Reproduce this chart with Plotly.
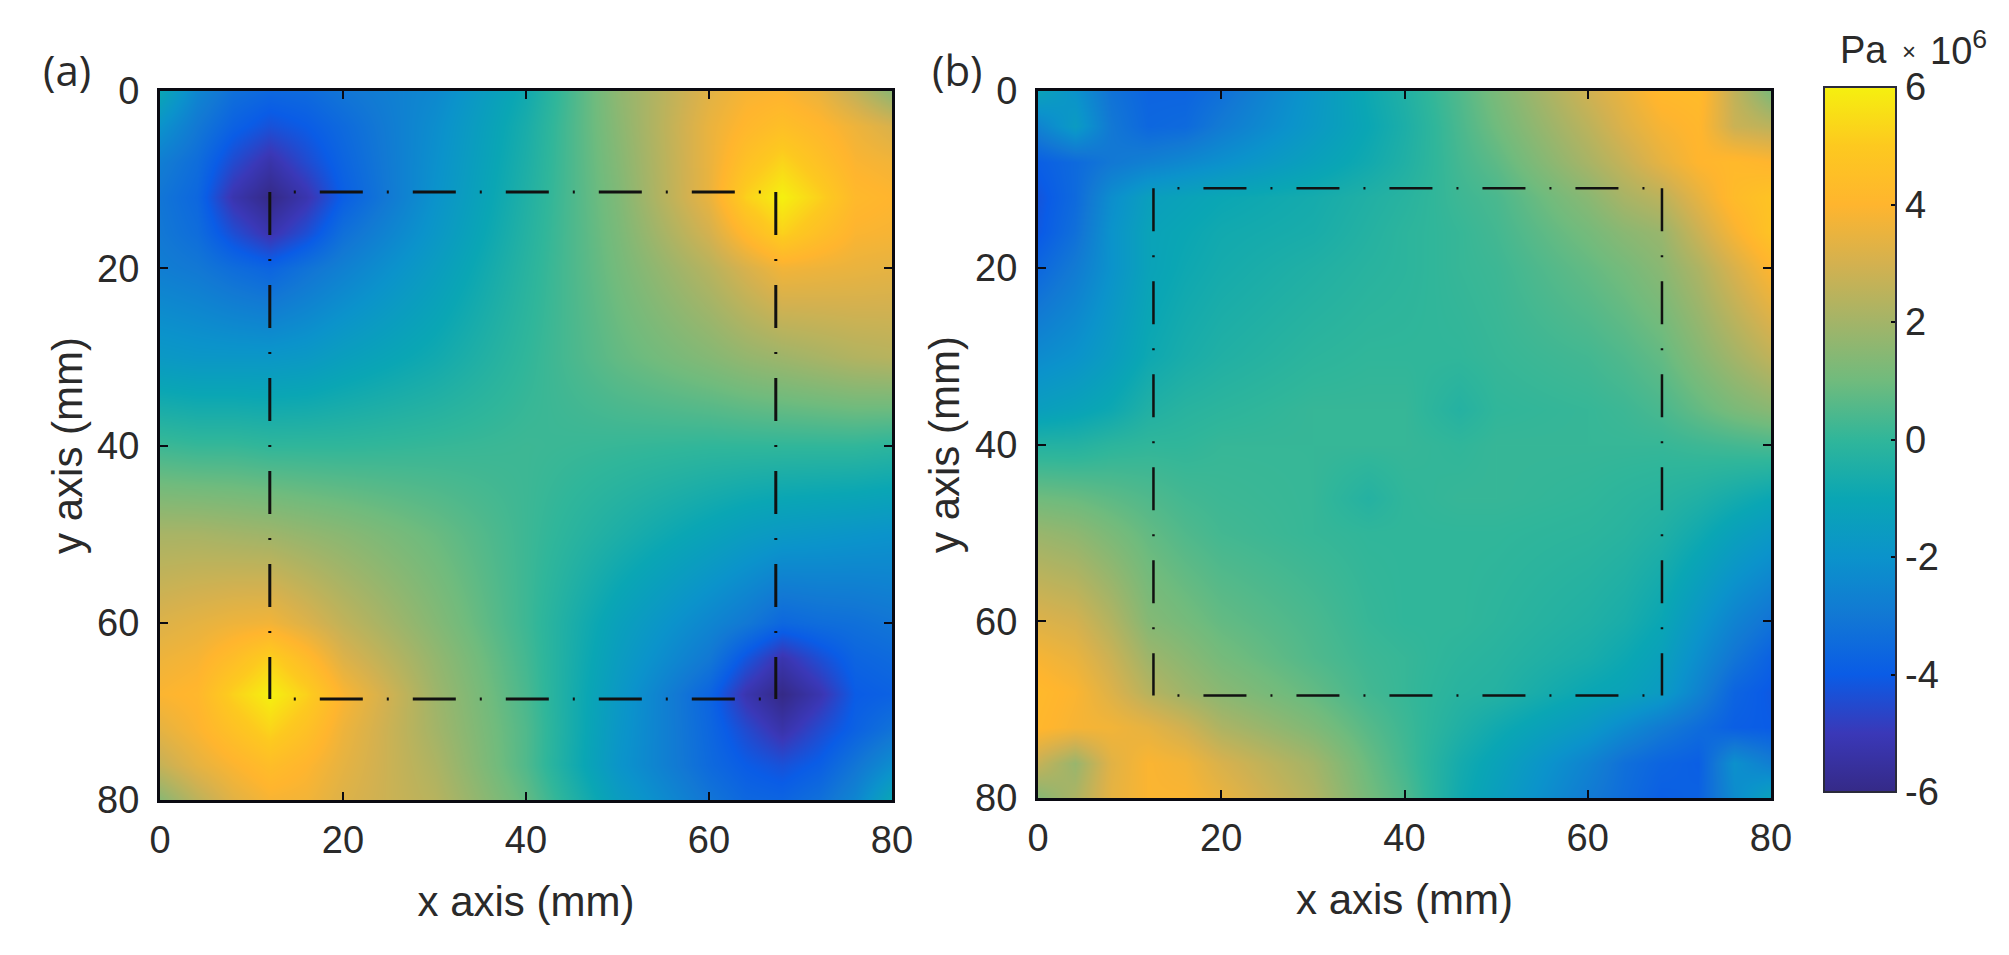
import plotly.graph_objects as go

W, H = 2009, 955

grid_a = [0, 4, 8, 12, 16, 20, 30, 40, 50, 60, 64, 68, 72, 76, 80]
z_a = [
    [-1.0, -2.5, -3.3, -3.6, -3.5, -3.1, -2.4, -0.8, 1.6, 3.3, 3.8, 3.9, 3.5, 2.6, 1.5],
    [-2.0, -3.0, -3.8, -4.3, -4.0, -3.5, -2.2, -0.6, 1.5, 3.5, 4.1, 4.5, 4.1, 3.6, 3.1],
    [-2.8, -3.4, -4.5, -5.3, -4.5, -3.7, -2.1, -0.5, 1.4, 3.5, 4.6, 5.3, 4.6, 3.9, 3.7],
    [-3.1, -3.6, -5.2, -6.0, -5.2, -3.9, -2.0, -0.4, 1.3, 3.5, 5.2, 6.0, 5.2, 4.2, 4.0],
    [-3.0, -3.4, -4.4, -5.2, -4.4, -3.3, -1.8, -0.3, 1.2, 3.0, 4.2, 5.2, 4.5, 3.9, 3.8],
    [-2.8, -3.0, -3.4, -3.7, -3.2, -2.7, -1.5, -0.2, 1.1, 2.4, 3.1, 3.7, 3.6, 3.5, 3.4],
    [-1.7, -1.8, -1.8, -1.8, -1.7, -1.4, -0.8, 0.0, 0.8, 1.4, 1.7, 1.9, 2.1, 2.3, 2.4],
    [0.2, 0.1, 0.1, 0.0, 0.0, 0.0, 0.1, 0.2, 0.1, 0.0, 0.0, 0.0, 0.0, 0.0, -0.1],
    [2.1, 2.1, 2.0, 1.9, 1.7, 1.5, 0.9, 0.2, -0.5, -1.2, -1.5, -1.7, -1.8, -1.9, -2.0],
    [3.2, 3.4, 3.6, 3.7, 3.2, 2.6, 1.4, 0.2, -1.3, -2.5, -3.0, -3.6, -3.4, -3.3, -3.1],
    [3.6, 3.8, 4.4, 5.2, 4.3, 3.2, 1.7, 0.3, -1.5, -3.0, -4.2, -5.2, -4.4, -3.7, -3.5],
    [3.9, 4.1, 5.2, 6.0, 5.2, 3.9, 1.9, 0.4, -1.7, -3.7, -5.2, -6.0, -5.2, -4.0, -3.8],
    [3.4, 3.9, 4.6, 5.3, 4.6, 3.6, 2.0, 0.5, -1.8, -3.6, -4.5, -5.3, -4.5, -3.8, -3.2],
    [2.7, 3.4, 3.9, 4.4, 4.0, 3.4, 2.2, 0.5, -1.9, -3.5, -4.0, -4.3, -3.9, -3.1, -2.2],
    [1.5, 2.5, 3.3, 3.8, 3.7, 3.2, 2.4, 0.8, -1.5, -3.1, -3.6, -3.7, -3.3, -2.5, -1.0],
]

grid_b = [0, 4, 8, 12, 16, 20, 30, 36, 40, 46, 50, 60, 64, 68, 72, 76, 80]
z_b = [
    [-1.2, -2.0, -3.2, -3.7, -3.7, -3.3, -1.8, -0.9, -0.4, 0.5, 1.2, 2.9, 3.5, 4.2, 4.3, 2.6, 1.2],
    [-2.6, -1.6, -3.0, -3.6, -3.5, -2.9, -1.7, -1.0, -0.5, 0.4, 1.0, 2.5, 3.2, 3.8, 4.1, 2.8, 2.5],
    [-3.9, -3.5, -3.0, -2.7, -2.4, -2.1, -1.3, -0.8, -0.4, 0.3, 0.7, 2.1, 2.7, 3.4, 4.0, 4.2, 4.0],
    [-4.2, -3.5, -2.2, -1.4, -1.2, -1.0, -0.7, -0.4, -0.2, 0.2, 0.4, 1.5, 2.1, 2.5, 3.4, 4.3, 4.7],
    [-4.1, -3.3, -2.0, -1.2, -1.0, -0.8, -0.6, -0.3, -0.1, 0.1, 0.3, 1.1, 1.5, 1.8, 2.8, 3.8, 4.7],
    [-3.6, -2.9, -2.0, -1.2, -0.9, -0.7, -0.4, -0.2, -0.1, 0.1, 0.2, 0.8, 1.1, 1.5, 2.2, 3.1, 4.0],
    [-2.3, -2.0, -1.5, -0.9, -0.6, -0.4, -0.1, 0.0, 0.0, 0.0, 0.1, 0.3, 0.5, 0.8, 1.4, 2.0, 2.6],
    [-1.4, -1.2, -0.9, -0.4, -0.2, -0.1, 0.1, 0.1, 0.1, -0.3, 0.0, 0.1, 0.2, 0.4, 0.8, 1.2, 1.5],
    [-0.3, -0.3, -0.1, 0.0, 0.0, 0.1, 0.1, 0.1, 0.1, 0.0, 0.1, 0.1, 0.1, 0.1, 0.2, 0.3, 0.4],
    [1.0, 0.9, 0.7, 0.5, 0.3, 0.2, 0.1, -0.3, 0.0, 0.1, 0.1, 0.0, -0.1, -0.2, -0.4, -0.7, -1.0],
    [1.8, 1.6, 1.2, 0.8, 0.5, 0.3, 0.1, 0.0, 0.0, 0.0, 0.0, -0.1, -0.2, -0.4, -0.8, -1.3, -1.7],
    [3.2, 3.0, 2.3, 1.4, 1.1, 0.8, 0.4, 0.1, 0.0, 0.0, -0.1, -0.4, -0.6, -1.0, -1.8, -2.6, -3.2],
    [3.8, 3.5, 2.8, 1.9, 1.5, 1.1, 0.5, 0.2, 0.1, -0.1, -0.2, -0.6, -0.9, -1.3, -2.2, -3.1, -3.8],
    [4.2, 3.9, 3.2, 2.4, 1.9, 1.5, 0.8, 0.3, 0.1, -0.2, -0.3, -1.0, -1.2, -1.6, -2.6, -3.7, -4.1],
    [4.1, 3.8, 3.7, 3.4, 2.9, 2.2, 1.3, 0.6, 0.2, -0.4, -0.8, -1.7, -2.3, -2.9, -3.4, -3.9, -4.0],
    [2.7, 1.8, 3.3, 3.9, 3.7, 3.1, 2.0, 0.9, 0.3, -0.7, -1.2, -2.6, -3.3, -3.7, -3.9, -2.1, -2.8],
    [1.4, 2.2, 3.4, 3.9, 3.9, 3.5, 2.3, 1.1, 0.5, -0.8, -1.4, -2.9, -3.4, -3.9, -3.8, -2.3, -1.2],
]

# sides of the dash-dot squares: (x pair, y pair)
sides_a = [([12, 67.3], [11.4, 11.4]), ([67.3, 67.3], [11.4, 68.6]), ([12, 67.3], [68.6, 68.6]), ([12, 12], [11.4, 68.6])]
sides_b = [([12.6, 68.1], [11, 11]), ([68.1, 68.1], [11, 68.4]), ([12.6, 68.1], [68.4, 68.4]), ([12.6, 12.6], [11, 68.4])]

axis_ticks = [0, 20, 40, 60, 80]
cbar_ticks = [-6, -4, -2, 0, 2, 4, 6]
cbar_labels = ["-6", "-4", "-2", "0", "2", "4", "6"]

parula_hex = ["#352a87", "#3a38b8", "#0a5ce6", "#1278d4", "#0b93cb", "#0aa6b4", "#30b69a",
              "#70bb7d", "#a3b468", "#d4b14f", "#ffb52e", "#fdc91f", "#f5f00f"]
parula = [[i / 12, c] for i, c in enumerate(parula_hex)]

FONT = "Liberation Sans"
INK = "#2a2a2a"
LINE = "#0a0a12"

def px_x(a, b):
    return [a / W, b / W]

def px_y(top, bottom):
    return [1 - bottom / H, 1 - top / H]

fig = go.Figure()
fig.add_trace(go.Heatmap(x=grid_a, y=grid_a, z=z_a, coloraxis="coloraxis", zsmooth="best", xaxis="x", yaxis="y"))
fig.add_trace(go.Heatmap(x=grid_b, y=grid_b, z=z_b, coloraxis="coloraxis", zsmooth="best", xaxis="x2", yaxis="y2"))

dash_h = "0px,24px,2px,24px,43px,0px"
dash_v = "43px,24px,2px,24px"
for sides, xa, ya, lw in ((sides_a, "x", "y", 3), (sides_b, "x2", "y2", 2.5)):
    for sx, sy in sides:
        horizontal = sy[0] == sy[1]
        fig.add_trace(go.Scatter(x=sx, y=sy, mode="lines", xaxis=xa, yaxis=ya, showlegend=False, hoverinfo="skip",
                                 line=dict(color="#111111", width=lw, dash=dash_h if horizontal else dash_v)))

def axis(dom, anchor, rng, title, standoff, label_gap):
    return dict(domain=dom, anchor=anchor, range=rng, tickvals=axis_ticks, ticks="inside", ticklen=8, tickwidth=2,
                tickcolor=LINE, showline=True, linecolor=LINE, linewidth=3, mirror="ticks", showgrid=False, zeroline=False,
                ticklabelstandoff=label_gap,
                tickfont=dict(family=FONT, size=38, color=INK),
                title=dict(text=title, font=dict(family=FONT, size=42, color=INK), standoff=standoff))

def note(text, x, y, size, family=FONT, anchor="center"):
    return dict(text=text, x=x / W, y=1 - y / H, xref="paper", yref="paper", showarrow=False, xanchor=anchor, yanchor="middle",
                font=dict(family=family, size=size, color=INK))

fig.update_layout(
    width=W, height=H, autosize=False, margin=dict(l=0, r=0, t=0, b=0, autoexpand=False),
    paper_bgcolor="white", plot_bgcolor="white", showlegend=False,
    xaxis=axis(px_x(160, 892), "y", [0, 80], "x axis (mm)", 28, 4),
    yaxis=axis(px_y(91, 800), "x", [80, 0], "y axis (mm)", 2, 10),
    xaxis2=axis(px_x(1038, 1771), "y2", [0, 80], "x axis (mm)", 28, 4),
    yaxis2=axis(px_y(91, 798), "x2", [80, 0], "y axis (mm)", 3, 10),
    coloraxis=dict(
        cmin=-6, cmax=6, colorscale=parula,
        colorbar=dict(x=1824 / W, xanchor="left", xref="paper", y=1 - 87 / H, yanchor="top", yref="paper",
                      len=705 / H, lenmode="fraction", thickness=72, thicknessmode="pixels",
                      tickmode="array", tickvals=cbar_ticks, ticktext=cbar_labels,
                      ticks="inside", ticklen=6, tickwidth=2, tickcolor=LINE,
                      outlinecolor="#2a2a3a", outlinewidth=2,
                      tickfont=dict(family=FONT, size=38, color=INK), xpad=0, ypad=0),
    ),
    annotations=[
        note("(a)", 67, 69, 42, "Open Sans"),
        note("(b)", 957, 69, 42, "Open Sans"),
        note("Pa", 1838, 50, 38, anchor="left"),
        note("×", 1909, 52, 24),
        note("10<sup>6</sup>", 1928, 48, 38, anchor="left"),
    ],
)
fig.write_html("out.html", config={"displayModeBar": False}, post_script="document.body.style.margin='0';")
